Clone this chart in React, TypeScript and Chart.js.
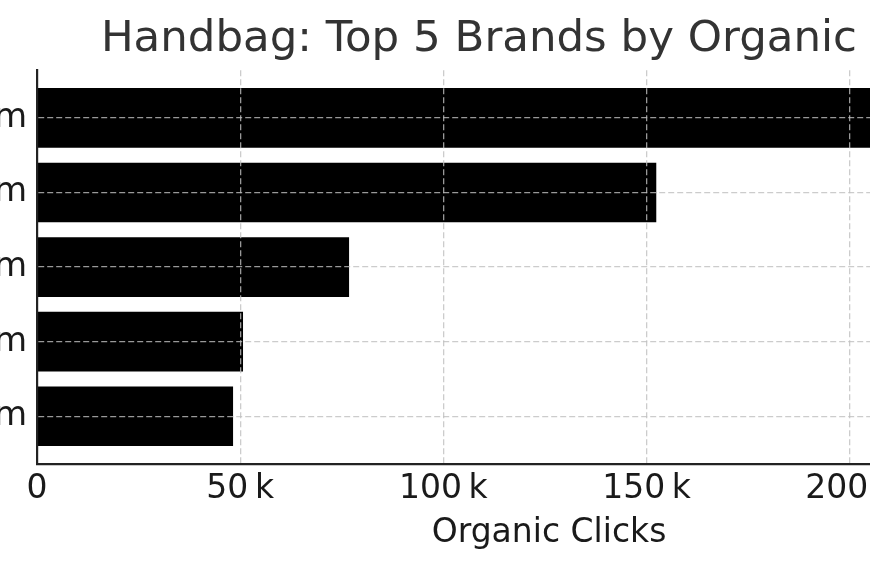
import React, { useEffect, useRef } from "react";
import { Chart, registerables } from "chart.js";

Chart.register(...registerables);

const brands: string[] = ["coach.com", "michaelkors.com", "katespade.com", "toryburch.com", "longchamp.com"];
const organicClicks: number[] = [240000, 152400, 76800, 50700, 48250];
const xTickValues: number[] = [0, 50000, 100000, 150000, 200000];
const chartTitle = "Handbag: Top 5 Brands by Organic Clicks";
const xAxisTitle = "Organic Clicks";

const FONT = "'DejaVu Sans', 'Liberation Sans', sans-serif";
const OFFSET_LEFT = 300;
const CANVAS_W = 1381;
const CANVAS_H = 570;

export default function App() {
  const ref = useRef<HTMLCanvasElement | null>(null);

  useEffect(() => {
    document.body.style.overflow = "hidden";
    const canvas = ref.current;
    if (!canvas) return;
    const gridColor = "rgba(191,191,191,0.8)";
    const chart = new Chart(canvas, {
      type: "bar",
      data: {
        datasets: [
          {
            data: organicClicks.map((v, i) => ({ x: v, y: i })),
            backgroundColor: "#000000",
            borderColor: "#000000",
            borderWidth: 0,
            categoryPercentage: 1,
            barPercentage: 0.8,
          },
        ],
      },
      options: {
        indexAxis: "y",
        animation: false,
        responsive: false,
        devicePixelRatio: 1,
        layout: { padding: { left: 0, right: 20, top: 0, bottom: 0 } },
        plugins: {
          legend: { display: false },
          tooltip: { enabled: false },
          title: {
            display: true,
            text: chartTitle,
            fullSize: false,
            color: "#333333",
            font: { family: FONT, size: 43.5, weight: "normal", lineHeight: 1.2 },
            padding: { top: 14, bottom: 4 },
          },
        },
        scales: {
          x: {
            type: "linear",
            min: 0,
            max: 252000,
            offset: false,
            afterBuildTicks: (scale: any) => {
              scale.ticks = xTickValues.map((v) => ({ value: v }));
            },
            afterFit: (scale: any) => {
              scale.height = 106;
            },
            ticks: {
              color: "#1a1a1a",
              font: { family: FONT, size: 33 },
              padding: 6,
              maxRotation: 0,
              autoSkip: false,
              callback: (v: any) => (Number(v) === 0 ? "0" : Number(v) / 1000 + "\u2009k"),
            },
            grid: {
              color: gridColor,
              lineWidth: 1.3,
              drawTicks: false,
              offset: false,
              z: 1,
            },
            border: { display: true, color: "#222222", width: 2.2, dash: [6, 3], z: 2 },
            title: {
              display: true,
              text: xAxisTitle,
              color: "#1a1a1a",
              font: { family: FONT, size: 33 },
              padding: { top: 0, bottom: 17 },
            },
          },
          y: {
            type: "linear",
            reverse: true,
            min: -0.64,
            max: 4.64,
            offset: false,
            afterBuildTicks: (scale: any) => {
              scale.ticks = brands.map((_, i) => ({ value: i }));
            },
            afterFit: (scale: any) => {
              scale.width = 37 + OFFSET_LEFT;
            },
            ticks: {
              color: "#1a1a1a",
              font: { family: FONT, size: 34 },
              padding: 10,
              autoSkip: false,
              callback: (v: any) => brands[Number(v)] ?? "",
            },
            grid: {
              color: gridColor,
              lineWidth: 1.3,
              drawTicks: false,
              offset: false,
              z: 1,
            },
            border: { display: true, color: "#222222", width: 2.2, dash: [6, 3], z: 2 },
          },
        },
      } as any,
    });
    return () => chart.destroy();
  }, []);

  return (
    <div style={{ position: "fixed", left: -OFFSET_LEFT, top: 0, width: CANVAS_W, height: CANVAS_H }}>
      <canvas ref={ref} width={CANVAS_W} height={CANVAS_H} />
    </div>
  );
}
